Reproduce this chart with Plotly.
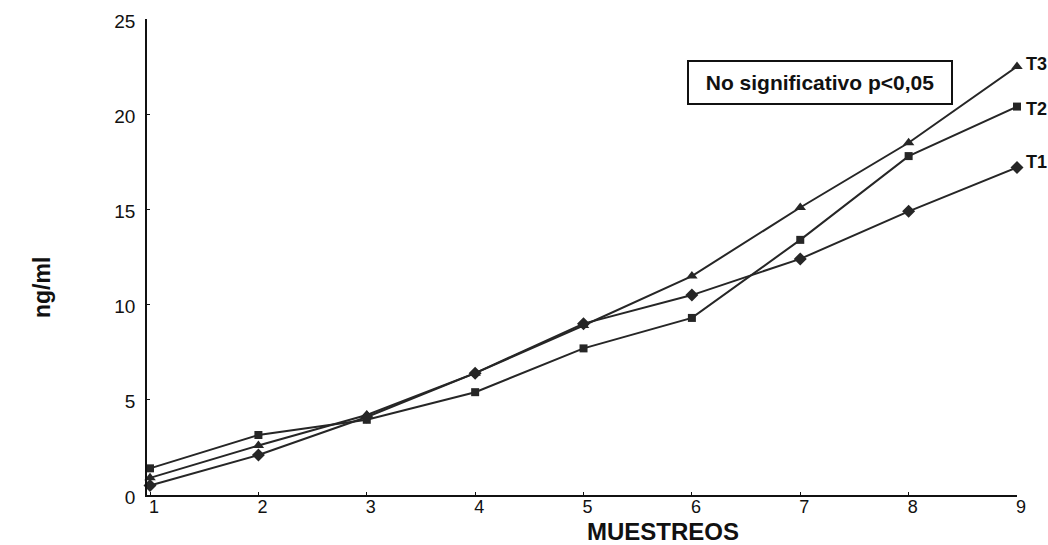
import plotly.graph_objects as go

muestreos = [1, 2, 3, 4, 5, 6, 7, 8, 9]
t1 = [0.5, 2.1, 4.1, 6.4, 9.0, 10.5, 12.4, 14.9, 17.2]
t2 = [1.4, 3.15, 3.95, 5.4, 7.7, 9.3, 13.4, 17.8, 20.4]
t3 = [0.9, 2.6, 4.2, 6.4, 8.9, 11.5, 15.1, 18.5, 22.5]
series_names = ["T1", "T2", "T3"]
y_ticks = [0, 5, 10, 15, 20, 25]

FONT = "Arial, Liberation Sans, Helvetica, sans-serif"
line_color = "#262626"
fig = go.Figure()
for name, vals, sym, size in [("T1", t1, "diamond", 10), ("T2", t2, "square", 8), ("T3", t3, "triangle-up", 10)]:
    fig.add_trace(go.Scatter(
        x=muestreos, y=vals, name=name, mode="lines+markers",
        line=dict(color=line_color, width=2),
        marker=dict(symbol=sym, size=size, color=line_color),
        cliponaxis=False, showlegend=False,
    ))

annotations = []
for name, vals, ys in [("T1", t1, 6), ("T2", t2, -2), ("T3", t3, 3)]:
    annotations.append(dict(
        x=muestreos[-1], y=vals[-1], xref="x", yref="y", text="<b>%s</b>" % name,
        showarrow=False, xanchor="left", xshift=7, yshift=ys,
        font=dict(family=FONT, size=18, color="#111"),
    ))
annotations.append(dict(
    x=7.18, y=21.65, xref="x", yref="y", text="<b>No significativo p&lt;0,05</b>",
    showarrow=False, font=dict(family=FONT, size=21, color="#111"),
    bordercolor="#111", borderwidth=2, borderpad=2, width=258, height=37, bgcolor="white",
))
annotations.append(dict(
    x=663, y=531, xref="paper", yref="paper", text="<b>MUESTREOS</b>", showarrow=False,
    xanchor="center", yanchor="middle", height=20, borderpad=0,
    font=dict(family=FONT, size=24, color="#111"),
))
annotations.append(dict(
    x=42, y=288, xref="paper", yref="paper", text="<b>ng/ml</b>", showarrow=False, textangle=-90,
    xanchor="center", yanchor="middle",
    font=dict(family=FONT, size=23, color="#111"),
))

# convert pixel-positioned title annotations to paper coordinates
L, R, T, B = 147, 31, 19, 50
W, H = 1048, 545
pw, ph = W - L - R, H - T - B
for a in annotations[-2:]:
    a["x"] = (a["x"] - L) / pw
    a["y"] = (H - B - a["y"]) / ph

fig.update_layout(
    width=W, height=H,
    margin=dict(l=L, r=R, t=T, b=B),
    paper_bgcolor="white", plot_bgcolor="white",
    font=dict(family=FONT, size=19, color="#111"),
    annotations=annotations,
    xaxis=dict(
        range=[0.972, 9], tickvals=muestreos, ticktext=[str(m) for m in muestreos],
        showgrid=False, zeroline=False, showline=True, linecolor="#111", linewidth=1.5,
        ticks="inside", ticklen=3, tickcolor="#111", ticklabelshift=4, ticklabelstandoff=-5,
        tickfont=dict(size=18),
    ),
    yaxis=dict(
        range=[0, 25], tickvals=y_ticks, ticktext=[str(v) for v in y_ticks],
        showgrid=False, zeroline=False, showline=True, linecolor="#111", linewidth=1.5,
        ticks="inside", ticklen=3, tickcolor="#111", ticklabelstandoff=6, ticklabelshift=2,
    ),
)

fig.write_html(
    "out.html",
    config={"displayModeBar": False},
    post_script="document.body.style.margin='0';document.body.style.overflow='hidden';",
)
